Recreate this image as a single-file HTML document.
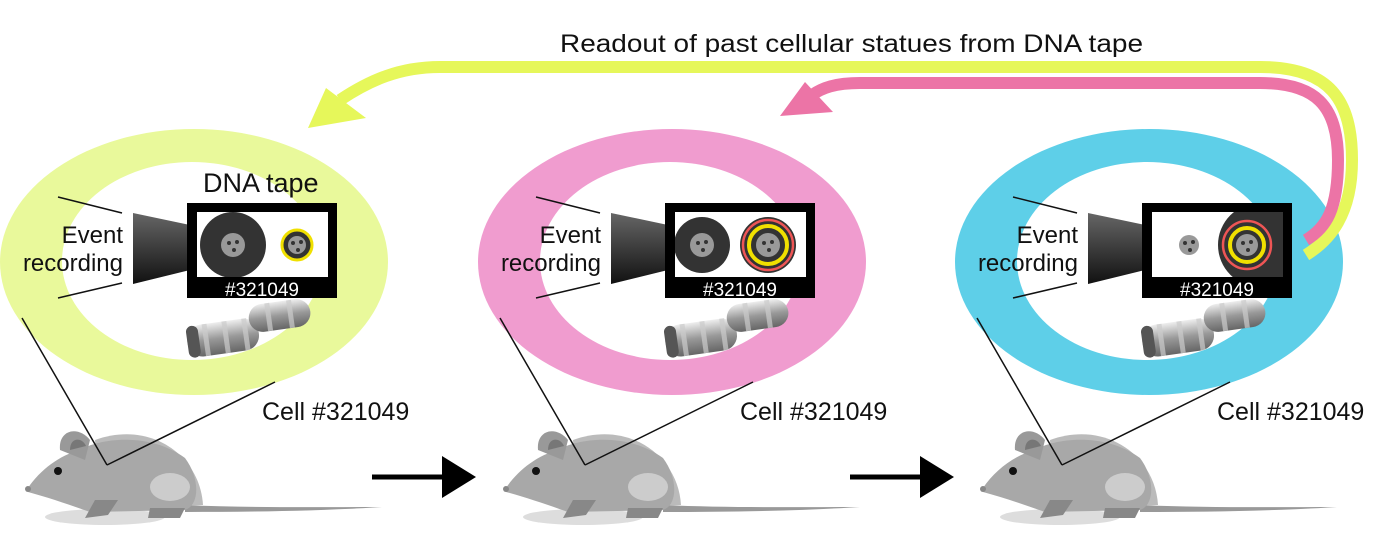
<!DOCTYPE html>
<html><head><meta charset="utf-8"><style>
html,body{margin:0;padding:0;background:#fff;}
svg{display:block;font-family:"Liberation Sans",Arial,sans-serif;}
</style></head><body>
<svg id="fig" width="1380" height="538" viewBox="0 0 1380 538" xmlns="http://www.w3.org/2000/svg">
<defs>
<linearGradient id="cone" x1="0" y1="0" x2="0" y2="1"><stop offset="0" stop-color="#666"/><stop offset="1" stop-color="#111"/></linearGradient>
<linearGradient id="chrom" x1="0" y1="0" x2="0" y2="1"><stop offset="0" stop-color="#eee"/><stop offset="0.5" stop-color="#999"/><stop offset="1" stop-color="#666"/></linearGradient>
</defs>
<text x="560" y="52" font-size="25" textLength="583" lengthAdjust="spacingAndGlyphs" fill="#111">Readout of past cellular statues from DNA tape</text>
<g id="panels"></g>
<path d="M1306,255 C1330,240 1352,215 1352,160 C1352,100 1330,67 1260,67 L440,67 C400,67 370,80 340,100" fill="none" stroke="#e6f75a" stroke-width="12"/>
<polygon points="308,128 326,88 366,118" fill="#e6f75a"/>
<path d="M1306,240 C1326,228 1338,210 1338,160 C1338,105 1315,83 1260,83 L860,83 C835,83 822,88 812,95" fill="none" stroke="#ec74a6" stroke-width="12"/>
<polygon points="780,116 805,82 833,112" fill="#ec74a6"/>
<g><line x1="372" y1="477" x2="445" y2="477" stroke="#000" stroke-width="5"/><polygon points="442,456 476,477 442,498" fill="#000"/></g>
<g><line x1="850" y1="477" x2="923" y2="477" stroke="#000" stroke-width="5"/><polygon points="920,456 954,477 920,498" fill="#000"/></g>
</svg>
<script>
const panels=[{dx:0,ring:"#e9f99b",state:1},{dx:478,ring:"#f09ccf",state:2},{dx:955,ring:"#5ecfe8",state:3}];
function hub(cx,cy,r){return `<circle cx="${cx}" cy="${cy}" r="${r}" fill="#999"/><circle cx="${cx-4}" cy="${cy-2}" r="2" fill="#333"/><circle cx="${cx+4}" cy="${cy-3}" r="2" fill="#333"/><circle cx="${cx+1}" cy="${cy+5}" r="2" fill="#333"/>`;}
let html="";
panels.forEach((p,i)=>{
  let reels="";
  if(p.state===1){reels=`<circle cx="233" cy="245" r="33" fill="#333"/>${hub(233,245,12)}<circle cx="297" cy="245" r="15" fill="#333" stroke="#f0e000" stroke-width="3"/>${hub(297,245,9)}`;}
  else if(p.state===2){reels=`<circle cx="224" cy="245" r="28" fill="#333"/>${hub(224,245,12)}<circle cx="290" cy="245" r="28" fill="#333"/><circle cx="290" cy="245" r="25" fill="none" stroke="#e55" stroke-width="2.5"/><circle cx="290" cy="245" r="19" fill="none" stroke="#f0e000" stroke-width="4"/>${hub(290,245,12)}`;}
  else {reels=`${hub(234,245,10)}<circle cx="305" cy="245" r="42" fill="#333"/><circle cx="292" cy="245" r="24" fill="none" stroke="#e55" stroke-width="2.5"/><circle cx="292" cy="245" r="17" fill="none" stroke="#f0e000" stroke-width="4"/>${hub(292,245,11)}<rect x="328" y="210" width="8" height="70" fill="#000"/>`;}
  html+=`<g transform="translate(${p.dx},0)">
<ellipse cx="194" cy="262" rx="194" ry="133" fill="${p.ring}"/>
<ellipse cx="192" cy="261" rx="130" ry="99" fill="#fff"/>
<line x1="58" y1="197" x2="122" y2="213" stroke="#111" stroke-width="1.5"/>
<line x1="58" y1="298" x2="122" y2="283" stroke="#111" stroke-width="1.5"/>
<text x="123" y="243" font-size="24" text-anchor="end" fill="#111">Event</text>
<text x="123" y="271" font-size="24" text-anchor="end" fill="#111">recording</text>
${i===0?'<text x="203" y="192" font-size="27" fill="#111">DNA tape</text>':''}
<polygon points="133,213 190,225 190,270 133,284" fill="url(#cone)"/>
<g>
<rect x="187" y="203" width="150" height="95" fill="#000"/>
<rect x="197" y="212" width="131" height="65" fill="#fff"/>
<clipPath id="cp${i}"><rect x="197" y="212" width="131" height="65"/></clipPath>
<g clip-path="url(#cp${i})">${reels}</g>
<text x="262" y="296" font-size="19" fill="#fff" text-anchor="middle">#321049</text>
</g>
<g transform="rotate(-8 248 328)">
<rect x="186" y="318" width="72" height="32" rx="15" fill="url(#chrom)"/>
<rect x="250" y="306" width="62" height="28" rx="14" fill="url(#chrom)"/>
<g stroke="#ccc" stroke-width="5" opacity="0.7"><line x1="205" y1="318" x2="205" y2="350"/><line x1="225" y1="318" x2="225" y2="350"/><line x1="245" y1="318" x2="245" y2="350"/><line x1="270" y1="306" x2="270" y2="334"/><line x1="292" y1="306" x2="292" y2="334"/></g>
<rect x="186" y="318" width="12" height="32" rx="6" fill="#555"/>
</g>
<text x="262" y="420" font-size="25" fill="#111">Cell #321049</text>
<g>
<ellipse cx="105" cy="517" rx="60" ry="8" fill="#ddd"/>
<path d="M185,505 C250,508 320,507 382,507 C320,511 250,512 185,512 Z" fill="#999"/>
<path d="M95,440 C150,420 200,455 203,505 L100,508 Z" fill="#bbb"/>
<path d="M28,488 C40,470 60,455 80,450 C100,438 150,432 185,458 C200,478 200,505 185,510 L90,512 C70,505 50,498 28,492 Z" fill="#a8a8a8"/>
<path d="M60,450 C58,430 78,425 90,440 L85,460 Z" fill="#999"/>
<path d="M70,450 C70,437 82,437 86,446 Z" fill="#777"/>
<ellipse cx="170" cy="487" rx="20" ry="14" fill="#ccc"/>
<circle cx="58" cy="471" r="4" fill="#111"/>
<circle cx="28" cy="489" r="3" fill="#888"/>
<path d="M95,500 L118,500 L108,515 L85,518 Z" fill="#888"/>
<path d="M150,508 L185,508 L180,518 L148,518 Z" fill="#888"/>
</g>
<line x1="22" y1="318" x2="107" y2="465" stroke="#111" stroke-width="1.5"/>
<line x1="275" y1="382" x2="107" y2="465" stroke="#111" stroke-width="1.5"/>
</g>`;
});
document.getElementById('panels').innerHTML=html;
</script>
</body></html>
